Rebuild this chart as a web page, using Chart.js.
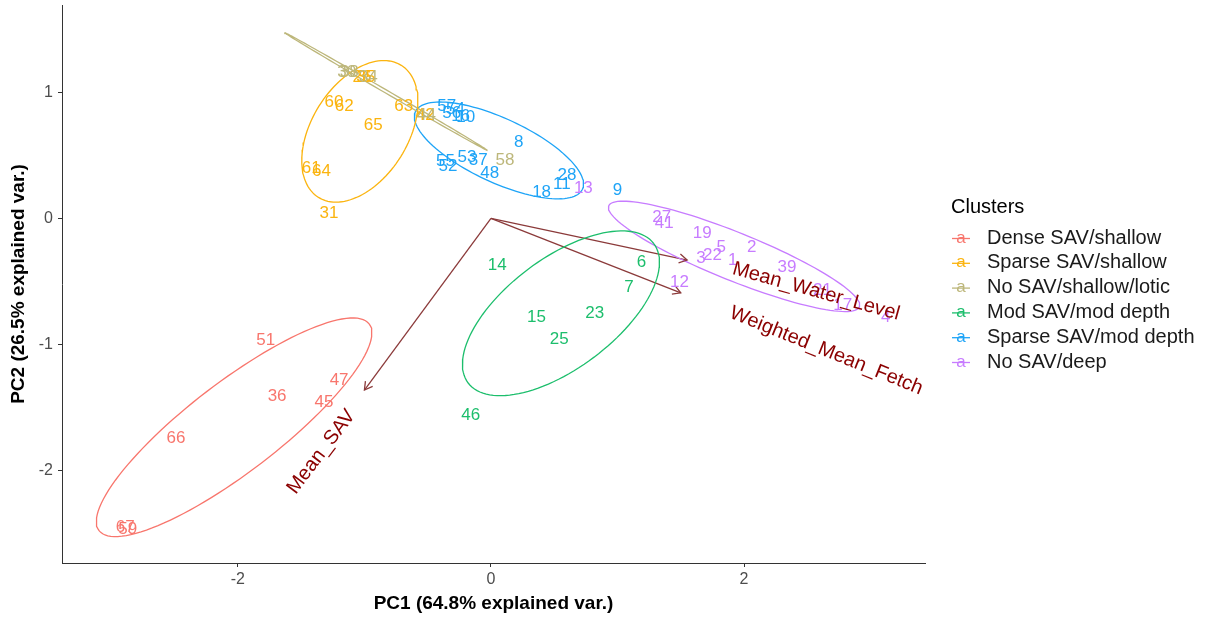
<!DOCTYPE html>
<html>
<head>
<meta charset="utf-8">
<script src="https://cdn.jsdelivr.net/npm/chart.js@4.4.1/dist/chart.umd.min.js"></script>
<style>
  html, body { margin: 0; padding: 0; background: #fff; }
</style>
</head>
<body>
<canvas id="chart" width="1207" height="619"></canvas>
<script>
// clusters
const clusters = [
  "Dense SAV/shallow",
  "Sparse SAV/shallow",
  "No SAV/shallow/lotic",
  "Mod SAV/mod depth",
  "Sparse SAV/mod depth",
  "No SAV/deep",
];
const clusterColors = ["#F8766D", "#FBB40F", "#BDB77B", "#1CBE6C", "#1EA4F7", "#C77CFF"];

// site scores [id, PC1, PC2]
const denseSavShallow = [
  ["51", -1.78, -0.97], ["36", -1.69, -1.41], ["47", -1.2, -1.28], ["45", -1.32, -1.46],
  ["66", -2.49, -1.74], ["67", -2.89, -2.45], ["59", -2.87, -2.46],
];
const sparseSavShallow = [
  ["60", -1.24, 0.92], ["62", -1.16, 0.89], ["65", -0.93, 0.74], ["63", -0.69, 0.89],
  ["42", -0.52, 0.82], ["61", -1.42, 0.4], ["64", -1.34, 0.37], ["31", -1.28, 0.04],
  ["26", -1.02, 1.12], ["35", -0.99, 1.12],
];
const noSavShallowLotic = [
  ["30", -1.14, 1.16], ["38", -1.12, 1.16], ["34", -0.97, 1.12], ["44", -0.51, 0.82],
  ["58", 0.11, 0.46],
];
const modSavModDepth = [
  ["14", 0.05, -0.37], ["6", 1.19, -0.35], ["7", 1.09, -0.55], ["15", 0.36, -0.78],
  ["23", 0.82, -0.75], ["25", 0.54, -0.96], ["46", -0.16, -1.56],
];
const sparseSavModDepth = [
  ["57", -0.35, 0.89], ["54", -0.28, 0.86], ["56", -0.31, 0.83], ["16", -0.24, 0.81],
  ["10", -0.2, 0.8], ["55", -0.36, 0.45], ["52", -0.34, 0.41], ["53", -0.19, 0.48],
  ["37", -0.1, 0.46], ["48", -0.01, 0.36], ["8", 0.22, 0.6], ["28", 0.6, 0.34],
  ["11", 0.56, 0.27], ["18", 0.4, 0.21], ["9", 1.0, 0.22],
];
const noSavDeep = [
  ["13", 0.73, 0.24], ["27", 1.35, 0.01], ["41", 1.37, -0.04], ["19", 1.67, -0.12],
  ["5", 1.82, -0.23], ["22", 1.75, -0.29], ["3", 1.66, -0.32], ["1", 1.91, -0.33],
  ["2", 2.06, -0.23], ["12", 1.49, -0.51], ["39", 2.34, -0.39], ["21", 2.62, -0.57],
  ["17", 2.78, -0.69], ["4", 3.12, -0.78],
];
const clusterSites = [denseSavShallow, sparseSavShallow, noSavShallowLotic, modSavModDepth, sparseSavModDepth, noSavDeep];

// normal ellipses per cluster: centre, semi-axes, angle (deg)
const ellipseCenters = [[-2.03, -1.655], [-1.036, 0.689], [-0.83, 1.005], [0.553, -0.752], [0.063, 0.538], [1.921, -0.301]];
const ellipseAxes = [[1.345, 0.356], [0.617, 0.38], [0.925, 0.012], [0.918, 0.435], [0.728, 0.253], [1.068, 0.19]];
const ellipseAngles = [37.5, 58, -30.2, 37, -25, -22];

// variable loadings
const loadingNames = ["Mean_SAV", "Mean_Water_Level", "Weighted_Mean_Fetch"];
const loadingTips = [[-1.0, -1.36], [1.55, -0.33], [1.5, -0.59]];
const loadingLabelPos = [[-1.34, -1.85], [2.57, -0.58], [2.65, -1.05]];
const loadingLabelAngles = [-53, 15.5, 22];

const xTicks = [-2, 0, 2];
const yTicks = [-2, -1, 0, 1];

const FONT = '"Liberation Sans", Arial, sans-serif';

function ellipsePoints(c, ax, angDeg) {
  const t = angDeg * Math.PI / 180;
  const pts = [];
  for (let i = 0; i <= 120; i++) {
    const s = 2 * Math.PI * i / 120;
    const u = ax[0] * Math.cos(s), v = ax[1] * Math.sin(s);
    pts.push({ x: c[0] + u * Math.cos(t) - v * Math.sin(t), y: c[1] + u * Math.sin(t) + v * Math.cos(t) });
  }
  return pts;
}

const datasets = [];

// ellipses
clusters.forEach((name, i) => {
  datasets.push({
    data: ellipsePoints(ellipseCenters[i], ellipseAxes[i], ellipseAngles[i]),
    showLine: true, borderColor: clusterColors[i], borderWidth: 1.3,
    pointRadius: 0, fill: false, tension: 0,
  });
});

// loading arrows
loadingTips.forEach((tip, i) => {
  datasets.push({
    data: [{ x: 0, y: 0 }, { x: tip[0], y: tip[1] }],
    showLine: true, borderColor: "#8B3A3A", borderWidth: 1.3,
    pointRadius: 0, fill: false,
  });
});

// site labels
clusterSites.forEach((sites, i) => {
  datasets.push({
    data: sites.map(s => ({ x: s[1], y: s[2] })),
    ids: sites.map(s => s[0]),
    labelColor: clusterColors[i],
    pointRadius: 0, showLine: false,
  });
});

const drawExtras = {
  id: "drawExtras",
  afterDatasetsDraw(chart) {
    const { ctx, scales: { x, y } } = chart;
    ctx.save();

    // arrowheads
    ctx.strokeStyle = "#8B3A3A";
    ctx.lineWidth = 1.3;
    const ox = x.getPixelForValue(0), oy = y.getPixelForValue(0);
    loadingTips.forEach(tip => {
      const tx = x.getPixelForValue(tip[0]), ty = y.getPixelForValue(tip[1]);
      const a = Math.atan2(ty - oy, tx - ox);
      const len = 9;
      ctx.beginPath();
      ctx.moveTo(tx - len * Math.cos(a - Math.PI / 6), ty - len * Math.sin(a - Math.PI / 6));
      ctx.lineTo(tx, ty);
      ctx.lineTo(tx - len * Math.cos(a + Math.PI / 6), ty - len * Math.sin(a + Math.PI / 6));
      ctx.stroke();
    });

    // site ids
    ctx.font = "17px " + FONT;
    ctx.textAlign = "center";
    ctx.textBaseline = "middle";
    chart.data.datasets.forEach(ds => {
      if (!ds.ids) return;
      ctx.fillStyle = ds.labelColor;
      ds.data.forEach((p, i) => {
        ctx.fillText(ds.ids[i], x.getPixelForValue(p.x), y.getPixelForValue(p.y));
      });
    });

    // loading names
    ctx.font = "20px " + FONT;
    ctx.fillStyle = "#8B0000";
    loadingNames.forEach((name, i) => {
      const px = x.getPixelForValue(loadingLabelPos[i][0]);
      const py = y.getPixelForValue(loadingLabelPos[i][1]);
      ctx.save();
      ctx.translate(px, py);
      ctx.rotate(loadingLabelAngles[i] * Math.PI / 180);
      ctx.fillText(name, 0, 0);
      ctx.restore();
    });

    // legend
    ctx.textAlign = "left";
    ctx.fillStyle = "#000";
    ctx.font = "20px " + FONT;
    ctx.fillText("Clusters", 951, 207);
    clusters.forEach((name, i) => {
      const ly = 238 + i * 24.8;
      ctx.fillStyle = clusterColors[i];
      ctx.strokeStyle = clusterColors[i];
      ctx.lineWidth = 1.3;
      ctx.font = "17px " + FONT;
      ctx.textAlign = "center";
      ctx.fillText("a", 961, ly);
      ctx.beginPath();
      ctx.moveTo(952, ly + 0.5);
      ctx.lineTo(970, ly + 0.5);
      ctx.stroke();
      ctx.textAlign = "left";
      ctx.fillStyle = "#1A1A1A";
      ctx.font = "20px " + FONT;
      ctx.fillText(name, 987, ly);
    });

    ctx.restore();
  },
};

new Chart(document.getElementById("chart"), {
  type: "scatter",
  data: { datasets },
  options: {
    responsive: false,
    animation: false,
    events: [],
    layout: { padding: { top: 5, right: 282, left: 0, bottom: 0 } },
    plugins: { legend: { display: false }, tooltip: { enabled: false } },
    scales: {
      x: {
        type: "linear", min: -3.39, max: 3.43,
        afterBuildTicks: s => { s.ticks = xTicks.map(v => ({ value: v })); },
        afterFit: s => { s.height = 56; s.paddingLeft = 0; s.paddingRight = 0; },
        grid: { display: true, drawOnChartArea: false, drawTicks: true, tickLength: 4, color: "#333" },
        border: { display: true, color: "#333", width: 1 },
        ticks: { color: "#4D4D4D", font: { size: 16, family: FONT }, padding: 3, maxRotation: 0 },
        title: { display: true, text: "PC1 (64.8% explained var.)", color: "#000",
          font: { size: 19, weight: "bold", family: FONT }, padding: { top: 0, bottom: 4 } },
      },
      y: {
        type: "linear", min: -2.73, max: 1.69,
        afterBuildTicks: s => { s.ticks = yTicks.map(v => ({ value: v })); },
        afterFit: s => { s.width = 62; s.paddingTop = 0; s.paddingBottom = 0; },
        grid: { display: true, drawOnChartArea: false, drawTicks: true, tickLength: 4, color: "#333" },
        border: { display: true, color: "#333", width: 1 },
        ticks: { color: "#4D4D4D", font: { size: 16, family: FONT }, padding: 5 },
        title: { display: true, text: "PC2 (26.5% explained var.)", color: "#000",
          font: { size: 19, weight: "bold", family: FONT }, padding: { top: 7, bottom: 0 } },
      },
    },
  },
  plugins: [drawExtras],
});
</script>
</body>
</html>
